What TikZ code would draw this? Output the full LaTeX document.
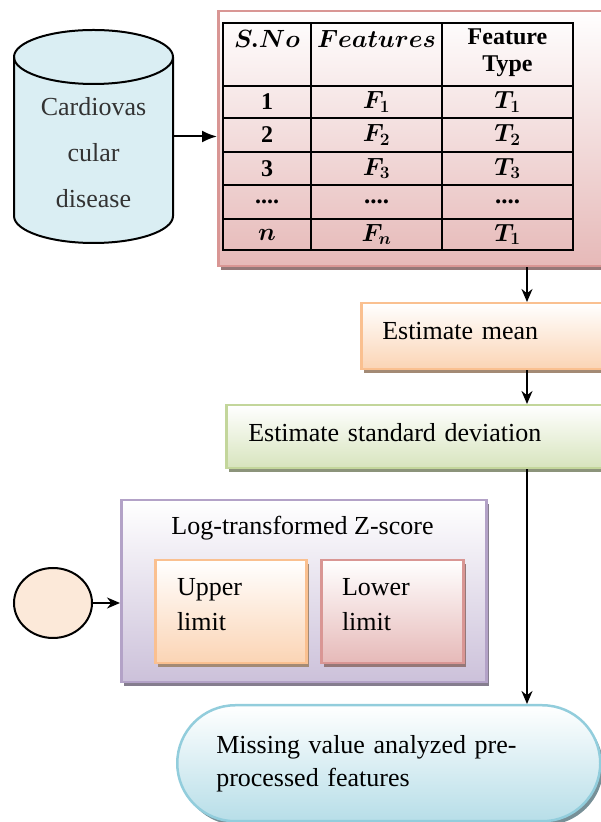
\documentclass[tikz,border=0pt]{standalone}
\usepackage{fontspec}
\setmainfont{Liberation Serif}
\usetikzlibrary{arrows.meta, positioning, shapes.geometric, shadows}

\definecolor{dbblue}{HTML}{DAEEF3}
\definecolor{pinkline}{HTML}{D99694}
\definecolor{pinkfill}{HTML}{E6B9B8}
\definecolor{orangeline}{HTML}{FAC090}
\definecolor{orangefill}{HTML}{FBD4B4}
\definecolor{greenline}{HTML}{C3D69B}
\definecolor{greenfill}{HTML}{D7E4BD}
\definecolor{purpleline}{HTML}{B3A2C7}
\definecolor{purplefill}{HTML}{CCC1DA}
\definecolor{cyanline}{HTML}{92CDDC}
\definecolor{cyanfill}{HTML}{B7DEE8}
\definecolor{peach}{HTML}{FCE9D9}

\tikzset{>={Stealth[length=13pt,width=11pt]},
    x=1pt, y=1pt,
    bigtext/.style={font=\fontsize{26}{34}\selectfont},
    shadowed/.style={drop shadow={shadow xshift=3pt,shadow yshift=-4pt,fill=#1,opacity=1}},
    framebox/.style={draw=pinkline,line width=2.5pt,top color=white,bottom color=pinkfill,
        shadowed=pinkfill!65!black,minimum width=398pt,minimum height=255pt,inner sep=0pt,anchor=north west},
    procbox/.style 2 args={draw=#1,line width=2.5pt,top color=white,bottom color=#2,
        shadowed=#2!65!black,bigtext,align=left,anchor=north west,inner xsep=21pt,inner ysep=0pt},
    cell/.style={font=\fontsize{24}{27}\selectfont\bfseries\boldmath,inner sep=0pt},
    mcell/.style={cell,font=\fontsize{25}{27}\selectfont\bfseries\boldmath},
    grid/.style={line width=1.6pt},
    dbtext/.style={font=\fontsize{26}{46}\selectfont,text=black!80,align=center},
    dbbody/.style={minimum width=159pt,minimum height=213pt,inner sep=0pt},
    limittext/.style={font=\fontsize{26}{35}\selectfont,align=left,anchor=west,inner sep=0pt},
    srcnode/.style={ellipse,draw=black,fill=peach,minimum width=78pt,minimum height=70pt},
    ztitle/.style={font=\fontsize{26}{30}\selectfont}}

\begin{document}
\begin{tikzpicture}[line width=2pt]
\useasboundingbox (0,0) rectangle (601,822);

% database
\filldraw[fill=dbblue,draw=black] (14,765) -- (14,606)
    arc[start angle=180,end angle=360,x radius=79.5pt,y radius=27pt] -- (173,765)
    arc[start angle=0,end angle=180,x radius=79.5pt,y radius=27pt] -- cycle;
\draw (14,765) arc[start angle=180,end angle=360,x radius=79.5pt,y radius=27pt];
\node[dbbody] (db) at (93.5,685.5) {};
\node[dbtext] (dbtxt) at (93.5,669) {Cardiovas\\cular\\disease};

% feature table
\node[framebox] (tbl) at (217,812) {};
\draw[grid] (223,799) rectangle (573,572);
\foreach \y in {736,704,670,637,603}
    \draw[grid] (223,\y) -- (573,\y);
\foreach \x in {311,442}
    \draw[grid] (\x,799) -- (\x,572);
\node[mcell] (hno) at (267,783) {$S.No$};
\node[mcell] (hfeat) at (376.5,783) {$Features$};
\node[cell,align=center] (htype) at (507.5,769.5) {Feature\\Type};
\foreach \n/\f/\t/\y [count=\i] in {1/$F_1$/$T_1$/720, 2/$F_2$/$T_2$/687, 3/$F_3$/$T_3$/653.5,
        {....}/{....}/{....}/620, $n$/$F_n$/$T_1$/587.5} {
    \node[cell] (no\i) at (267,\y) {\n};
    \node[mcell] (f\i) at (376.5,\y) {\f};
    \node[mcell] (t\i) at (507.5,\y) {\t};
}

% steps
\node[procbox={orangeline}{orangefill},text width=213pt,text depth=10pt,minimum height=66pt] (mean) at (360,520) {Estimate mean};
\node[procbox={greenline}{greenfill},text width=346pt,text depth=8pt,inner xsep=22pt,minimum height=63pt] (sd) at (225,418) {Estimate standard deviation};

% z-score group
\node[procbox={purpleline}{purplefill},minimum width=365pt,minimum height=182pt] (zbox) at (120,323) {};
\node[ztitle] (ztl) at (302.5,294) {Log-transformed Z-score};
\node[procbox={orangeline}{orangefill},minimum width=151pt,minimum height=103pt] (upper) at (154,263) {};
\node[procbox={pinkline}{pinkfill},minimum width=142pt,minimum height=103pt] (lower) at (320,263) {};
\node[limittext] (uptxt) at (176,217) {Upper\\limit};
\node[limittext] (lowtxt) at (341,217) {Lower\\limit};
\node[srcnode] (src) at (53,219) {};

% output
\node[procbox={cyanline}{cyanfill},rounded corners=58pt,text width=345pt,inner xsep=39pt,minimum height=116pt,
    font=\fontsize{26}{33}\selectfont] (out) at (176,118) {Missing value analyzed pre-\\processed features};

% connectors
\coordinate (spine) at (527,0);
\draw[-{Latex[length=15pt,width=12pt]}] (db.east) -- (db.east -| tbl.west);
\draw[->] (tbl.south -| spine) -- (mean.north -| spine);
\draw[->] (mean.south -| spine) -- (sd.north -| spine);
\draw[->] (sd.south -| spine) -- (out.north -| spine);
\draw[->] (src.east) -- (src.east -| zbox.west);
\end{tikzpicture}
\end{document}
